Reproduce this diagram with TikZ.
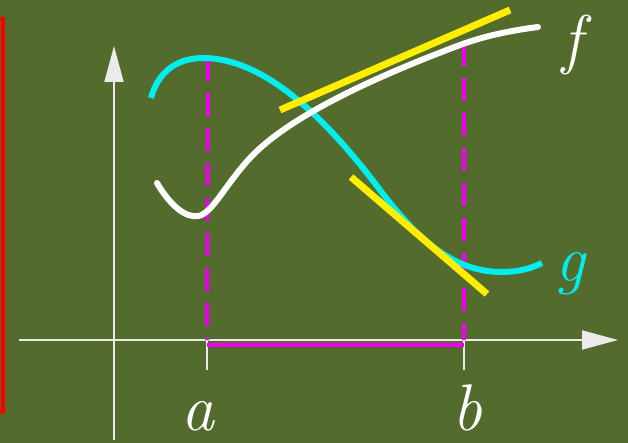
\documentclass[tikz,border=0pt]{standalone}
\usetikzlibrary{arrows.meta}
\definecolor{board}{RGB}{84,107,46}
\definecolor{gcyan}{RGB}{0,238,238}
\definecolor{tyellow}{RGB}{255,238,0}
\definecolor{guidemag}{RGB}{238,0,238}
\tikzset{
  axis/.style={draw=white!92!black, line width=2pt, -{Triangle[length=36pt,width=19pt]}},
  tickmark/.style={draw=white!92!black, line width=1.5pt},
  curvef/.style={draw=white, line width=6pt, line cap=round},
  curveg/.style={draw=gcyan, line width=6pt},
  tangent/.style={draw=tyellow, line width=7pt},
  guide/.style={draw=guidemag, line width=4pt, dash pattern=on 23pt off 12pt},
  lbl/.style={font=\fontsize{66}{66}\selectfont\itshape, inner sep=0pt}
}

\begin{document}
\begin{tikzpicture}[x=1pt, y=-1pt]
  \fill[board] (0,0) rectangle (628,443);
  \useasboundingbox (0,0) rectangle (628,443);
  \draw[red, line width=4pt] (-20,19) rectangle (3,412);

  % axes
  \coordinate (xstart) at (19,340);
  \coordinate (xend) at (618,340);
  \coordinate (ystart) at (114,440);
  \coordinate (yend) at (114,46);
  \draw[axis] (xstart) -- (xend);
  \draw[axis] (ystart) -- (yend);

  % interval [a,b]
  \coordinate (atick) at (207,340);
  \coordinate (btick) at (464,340);
  \coordinate (atop) at (208,58);
  \coordinate (btop) at (464,43);
  \draw[tickmark] (atick) -- ++(0,30);
  \draw[tickmark] (btick) -- ++(0,30);
  \draw[guidemag, line width=4pt] ([yshift=-4.5pt]atick) -- ([yshift=-4.5pt]btick);
  \draw[guide] (atop) -- (atick);
  \draw[guide] (btop) -- (btick);

  % curves
  \draw[curveg] (151,98) .. controls (160,65) and (185,58) .. (203,58)
    .. controls (260,58) and (320,110) .. (380,190)
    .. controls (420,243) and (455,271) .. (500,272)
    .. controls (520,272) and (532,268) .. (542,263);
  \draw[curvef] (157,183) .. controls (170,205) and (185,218) .. (198,216)
    .. controls (212,214) and (225,185) .. (250,158)
    .. controls (290,115) and (380,75) .. (460,45)
    .. controls (487,35) and (515,30) .. (538,27);

  % tangents
  \coordinate (tfa) at (280,110);
  \coordinate (tfb) at (510,10);
  \coordinate (tga) at (351,177);
  \coordinate (tgb) at (487,294);
  \draw[tangent] (tfa) -- (tfb);
  \draw[tangent] (tga) -- (tgb);

  % labels
  \node[lbl, text=white, anchor=base] (alabel) at (198,430) {a};
  \node[lbl, text=white, anchor=base] (blabel) at (467,430) {b};
  \node[lbl, text=white] (flabel) at (572,45) {f};
  \node[lbl, text=gcyan, anchor=base] (glabel) at (570,281) {g};
\end{tikzpicture}
\end{document}
